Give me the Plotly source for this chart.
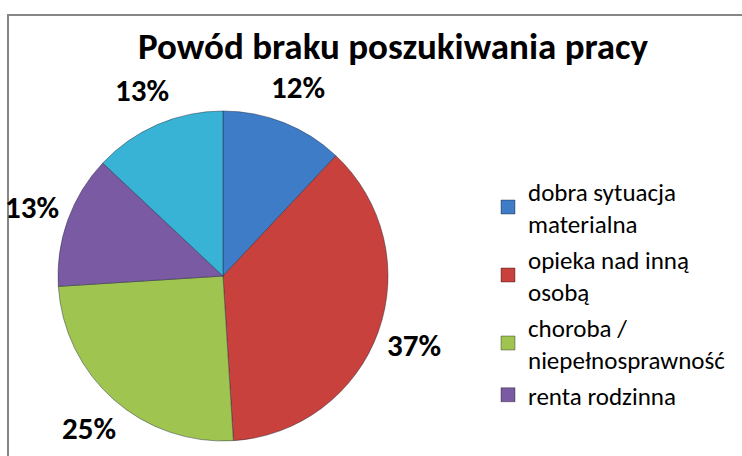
import math
import plotly.graph_objects as go

# Survey results: reasons for not looking for a job (percent of respondents)
categories = [
    "dobra sytuacja<br>materialna",
    "opieka nad inną<br>osobą",
    "choroba /<br>niepełnosprawność",
    "renta rodzinna",
    "inne",
]
shares = [12, 37, 25, 13, 13]
colors = ["#3F7CC8", "#C8413C", "#A0C450", "#7A5AA2", "#38B3D6"]
legend_count = 4  # the legend box only has room for the first four entries

W, H = 742, 456
FONT = "Carlito, Lato, sans-serif"

# pie geometry in pixels
cx, cy, R = 223, 276, 165
label_gap = 38

fig = go.Figure()

fig.add_trace(go.Pie(
    labels=categories,
    values=shares,
    sort=False,
    direction="clockwise",
    rotation=0,
    marker=dict(colors=colors, line=dict(color="rgba(30,40,60,0.45)", width=1)),
    textinfo="none",
    hoverinfo="label+percent",
    showlegend=False,
    domain=dict(x=[(cx - R) / W, (cx + R) / W], y=[1 - (cy + R) / H, 1 - (cy - R) / H]),
))

# legend entries drawn as square markers
for name, col in list(zip(categories, colors))[:legend_count]:
    fig.add_trace(go.Scatter(
        x=[None], y=[None], mode="markers", name=name,
        marker=dict(symbol="square", size=14, color=col,
                    line=dict(color="rgba(0,0,0,0.35)", width=1)),
    ))

# percentage labels placed outside each slice, at its mid-angle
total = sum(shares)
start = 0.0
for v in shares:
    mid = start + v / total * 360 / 2
    start += v / total * 360
    a = math.radians(mid)
    px = cx + (R + label_gap) * math.sin(a)
    py = cy - (R + label_gap) * math.cos(a)
    fig.add_annotation(
        x=px / W, y=1 - py / H, xref="paper", yref="paper",
        text=f"<b>{round(v / total * 100)}%</b>", showarrow=False,
        font=dict(family=FONT, size=31, color="#000000"),
        xanchor="center", yanchor="middle",
    )

# chart area frame
fig.add_shape(type="rect", xref="paper", yref="paper",
              x0=8 / W, x1=1.05, y0=-0.05, y1=1 - 15 / H,
              line=dict(color="#868686", width=2), fillcolor="rgba(0,0,0,0)", layer="below")

fig.update_layout(
    width=W, height=H,
    margin=dict(l=0, r=0, t=0, b=0),
    paper_bgcolor="white", plot_bgcolor="white",
    title=dict(text="<b>Powód braku poszukiwania pracy</b>",
               x=393 / W, xanchor="center", y=1 - 46 / H, yanchor="middle",
               font=dict(family=FONT, size=37, color="#000000")),
    xaxis=dict(visible=False), yaxis=dict(visible=False),
    legend=dict(x=488 / W, y=1 - 168 / H, xanchor="left", yanchor="top",
                font=dict(family=FONT, size=25, color="#000000"),
                bgcolor="rgba(0,0,0,0)", tracegroupgap=0, itemwidth=30),
)

fig.write_html("out.html")
